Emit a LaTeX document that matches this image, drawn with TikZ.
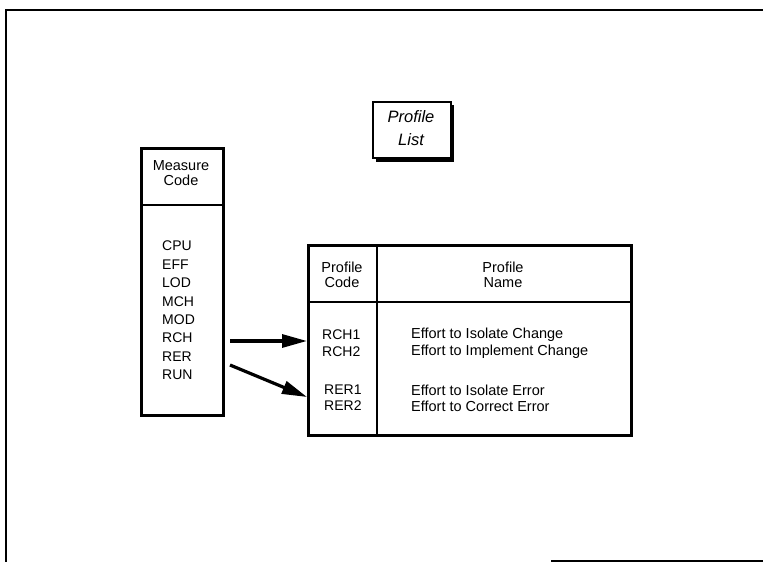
\documentclass[tikz,border=0pt]{standalone}
\usepackage{fontspec}
\setmainfont{Liberation Sans}
\usetikzlibrary{arrows.meta}
\begin{document}
\begin{tikzpicture}[x=1pt,y=-1pt,
  lbl/.style={inner sep=0pt,font=\fontsize{14}{16}\selectfont},
  hdr/.style={inner sep=0pt,align=center,font=\fontsize{14.5}{15.5}\selectfont},
  box/.style={draw,line width=2.5pt,inner sep=0pt},
  conn/.style={line width=3.2pt,-{Triangle[length=25pt,width=13pt]}}]
\useasboundingbox (0,0) rectangle (763,562);
% outer frame
\draw[line width=2.5pt] (6,562) -- (6,10) -- (763,10);
\draw[line width=1.5pt] (551,561) -- (763,561);
% Profile List box with shadow
\fill[black] (376,105) rectangle (454,162);
\node[box,fill=white,line width=1.5pt,minimum width=78pt,minimum height=56pt,anchor=north west] (plist) at (372,101) {};
\node[hdr,font=\fontsize{16.5}{23}\selectfont\itshape] (plisttxt) at (411,128.5) {Profile\\List};
% Measure Code box
\node[box,minimum width=82pt,minimum height=267pt,anchor=north west] (mbox) at (140,147) {};
\draw[line width=2.5pt] (140,205) -- (222,205);
\node[hdr] (mhdr) at (181,173) {Measure\\Code};
\foreach \t [count=\i] in {CPU,EFF,LOD,MCH,MOD,RCH,RER,RUN}{
  \node[lbl,anchor=west] (m\t) at (162,{246+18.4*(\i-1)}) {\t};
}
% Profile table
\node[box,minimum width=323pt,minimum height=190pt,anchor=north west] (tbl) at (307,244) {};
\draw[line width=2.5pt] (307,302) -- (630,302);
\draw[line width=2.5pt] (377,244) -- (377,434);
\node[hdr] (pchdr) at (342,275) {Profile\\Code};
\node[hdr] (pnhdr) at (503,275) {Profile\\Name};
\node[lbl,anchor=west] (rch1) at (322,335) {RCH1};
\node[lbl,anchor=west] (rch2) at (322,352) {RCH2};
\node[lbl,anchor=west] (rer1) at (324,390) {RER1};
\node[lbl,anchor=west] (rer2) at (324,406) {RER2};
\node[lbl,font=\fontsize{14.5}{16}\selectfont,anchor=west] (n1) at (411,335) {Effort to Isolate Change};
\node[lbl,font=\fontsize{14.5}{16}\selectfont,anchor=west] (n2) at (411,352) {Effort to Implement Change};
\node[lbl,font=\fontsize{14.5}{16}\selectfont,anchor=west] (n3) at (411,390) {Effort to Isolate Error};
\node[lbl,font=\fontsize{14.5}{16}\selectfont,anchor=west] (n4) at (411,406) {Effort to Correct Error};
% connectors
\coordinate (a1) at (230,341);
\coordinate (a2) at (230,365);
\coordinate (e1) at (307,341);
\coordinate (e2) at (307,397);
\draw[conn] (a1) -- (e1);
\draw[conn] (a2) -- (e2);
\end{tikzpicture}
\end{document}
